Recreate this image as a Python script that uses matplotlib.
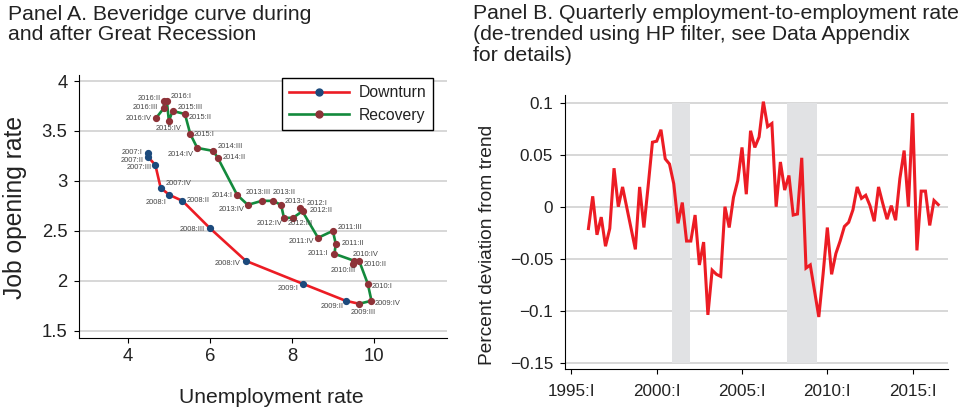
import matplotlib
matplotlib.use('Agg')
import matplotlib.pyplot as plt
from matplotlib.lines import Line2D
from matplotlib.ticker import FuncFormatter
import pandas as pd

plt.rcParams['font.family'] = ['Liberation Sans', 'DejaVu Sans']

# ---------------- Panel A data ----------------
down_labels = ['2007:I', '2007:II', '2007:III', '2007:IV', '2008:I', '2008:II',
               '2008:III', '2008:IV', '2009:I', '2009:II']
unemp_down = [4.50, 4.50, 4.67, 4.80, 5.01, 5.33, 5.99, 6.87, 8.26, 9.30]
jo_down = [3.275, 3.235, 3.16, 2.93, 2.86, 2.80, 2.53, 2.20, 1.97, 1.80]

rec_labels = ['2009:III', '2009:IV', '2010:I', '2010:II', '2010:III', '2010:IV',
              '2011:I', '2011:II', '2011:III', '2011:IV', '2012:I', '2012:II',
              '2012:III', '2012:IV', '2013:I', '2013:II', '2013:III', '2013:IV',
              '2014:I', '2014:II', '2014:III', '2014:IV', '2015:I', '2015:II',
              '2015:III', '2015:IV', '2016:I', '2016:II', '2016:III', '2016:IV']
unemp_rec = [9.63, 9.93, 9.84, 9.63, 9.47, 9.51, 9.03, 9.06, 8.99, 8.63,
             8.20, 8.26, 8.02, 7.80, 7.73, 7.53, 7.26, 6.92, 6.66, 6.19,
             6.08, 5.69, 5.52, 5.39, 5.09, 5.00, 4.95, 4.88, 4.88, 4.69]
jo_rec = [1.77, 1.80, 1.97, 2.20, 2.17, 2.20, 2.27, 2.37, 2.50, 2.43,
          2.73, 2.70, 2.63, 2.63, 2.76, 2.80, 2.80, 2.76, 2.86, 3.23,
          3.30, 3.33, 3.47, 3.67, 3.70, 3.60, 3.80, 3.80, 3.73, 3.63]

# label placement (ha, dx pt, dy pt)
down_lab_style = [('right', -4, 0.5), ('right', -3.4, -2.2), ('right', -2.4, -2.2),
                  ('left', 3.4, 3.1), ('right', -1.7, -5.3), ('left', 3.1, 0.2),
                  ('right', -3.1, -1.2), ('right', -3.4, -1.7), ('right', -3.1, -3.6),
                  ('right', -1.4, -4.3)]
rec_lab_style = [('center', 2.6, -6), ('left', 2.6, -1.7), ('left', 3.1, -2.2),
                 ('left', 3.1, -2.4), ('center', -6.5, -5), ('left', -1, 4.8),
                 ('right', -4.3, 0), ('left', 4.3, 0), ('left', 3.4, 2.4),
                 ('right', -2.6, -2.4), ('left', 4.3, 3.1), ('left', 4.8, 0.2),
                 ('center', 5.3, -4.1), ('center', -10.3, -4.1), ('center', 10, 2.6),
                 ('center', 8, 6), ('center', -2.4, 6), ('right', -2, -3.4),
                 ('right', -3.1, -0.7), ('left', 3.6, 0), ('left', 2.9, 2.9),
                 ('right', -2.4, -4.6), ('left', 2.6, -0.2), ('left', 2.9, -2.4),
                 ('left', 3.4, 2.4), ('center', 0, -5.5), ('left', 3.1, 2.9),
                 ('right', -2.4, 1.7), ('right', -4.3, 0), ('right', -2.9, -0.7)]

# ---------------- Panel B data ----------------
start_quarter = '1996Q1'
e2e = [-0.021, 0.010, -0.027, -0.010, -0.038, -0.021, 0.037, 0.000, 0.019, -0.001,
       -0.021, -0.041, 0.019, -0.020, 0.020, 0.062, 0.063, 0.074, 0.046, 0.041,
       0.022, -0.016, 0.004, -0.033, -0.033, -0.008, -0.056, -0.034, -0.104, -0.061,
       -0.065, -0.067, 0.000, -0.020, 0.009, 0.025, 0.057, 0.012, 0.073, 0.057,
       0.067, 0.101, 0.077, 0.080, 0.000, 0.043, 0.016, 0.030, -0.008, -0.007,
       0.047, -0.059, -0.056, -0.081, -0.106, -0.065, -0.020, -0.065, -0.045, -0.033,
       -0.019, -0.015, -0.003, 0.019, 0.008, 0.011, 0.001, -0.014, 0.019, 0.003,
       -0.012, 0.001, -0.013, 0.027, 0.054, 0.000, 0.090, -0.042, 0.015, 0.015,
       -0.018, 0.006, 0.002]
rec_start = [2000.90, 2007.62]
rec_end = [2001.93, 2009.40]
b_xticks = [1995, 2000, 2005, 2010, 2015]
b_xticklabels = ['1995:I', '2000:I', '2005:I', '2010:I', '2015:I']
b_yticks = [0.1, 0.05, 0, -0.05, -0.1, -0.15]

RED = '#ec1c24'
GREEN = '#138a3c'
NAVY = '#1c4a7c'
MAROON = '#8e3238'
GRID = '#d4d4d4'
TXT = '#222222'

fig = plt.figure(figsize=(9.66, 4.11), dpi=100)

# ================= Panel A =================
axA = fig.add_axes([0.0821, 0.1783, 0.3803, 0.6392])
axA.set_xlim(2.82, 11.76)
axA.set_ylim(1.43, 4.06)
axA.set_yticks([1.5, 2, 2.5, 3, 3.5, 4])
axA.set_xticks([4, 6, 8, 10])
fmt = FuncFormatter(lambda v, p: ('%g' % v).replace('-', '\u2212'))
axA.yaxis.set_major_formatter(fmt)
axA.xaxis.set_major_formatter(fmt)
axA.set_axisbelow(True)
axA.yaxis.grid(True, color=GRID, lw=1.3)
for s in ['top', 'right']:
    axA.spines[s].set_visible(False)
axA.tick_params(labelsize=13.3, length=3.5, width=0.8, pad=4, labelcolor=TXT)
axA.tick_params(axis='y', pad=5)

axA.plot(unemp_down + [unemp_rec[0]], jo_down + [jo_rec[0]], color=RED, lw=1.9,
         zorder=2, solid_capstyle='round')
axA.plot(unemp_rec, jo_rec, color=GREEN, lw=1.9, zorder=2, solid_joinstyle='round')
axA.plot(unemp_down, jo_down, 'o', color=NAVY, ms=4.2, zorder=3)
axA.plot(unemp_rec, jo_rec, 'o', color=MAROON, ms=4.2, zorder=3)

for lab, x, y, (ha, dx, dy) in zip(down_labels + rec_labels,
                                   unemp_down + unemp_rec, jo_down + jo_rec,
                                   down_lab_style + rec_lab_style):
    axA.annotate(lab, (x, y), xytext=(dx, dy), textcoords='offset points',
                 ha=ha, va='center', fontsize=5.4, color='#444444', zorder=4)

handles = [Line2D([], [], color=RED, lw=1.9, marker='o', mfc=NAVY, mec=NAVY, ms=5),
           Line2D([], [], color=GREEN, lw=1.9, marker='o', mfc=MAROON, mec=MAROON, ms=5)]
leg = axA.legend(handles, ['Downturn', 'Recovery'], loc='upper right',
                 bbox_to_anchor=(0.963, 0.9886), borderaxespad=0, fontsize=11.3,
                 handlelength=3.8, fancybox=False, framealpha=1, edgecolor='black',
                 borderpad=0.45, labelspacing=0.5, handletextpad=0.6)
leg.get_frame().set_linewidth(1.0)
for t in leg.get_texts():
    t.set_color(TXT)

fig.text(8.3 / 966, 0.989, 'Panel A. Beveridge curve during\nand after Great Recession',
         ha='left', va='top', fontsize=15.3, linespacing=1.13, color=TXT)
fig.text(15 / 966, 1 - 207 / 411, 'Job opening rate', rotation=90, ha='center',
         va='center', fontsize=17.7, color=TXT)
fig.text(271 / 966, 1 - 397 / 411, 'Unemployment rate', ha='center', va='center',
         fontsize=15.2, color=TXT)

# ================= Panel B =================
axB = fig.add_axes([0.5846, 0.1022, 0.3971, 0.6667])
periods = pd.period_range(start_quarter, periods=len(e2e), freq='Q')
xq = [p.year + (p.quarter - 1) / 4 for p in periods]
axB.set_xlim(1994.61, 2017.09)
axB.set_ylim(-0.156, 0.1074)
axB.set_axisbelow(True)
axB.set_yticks(b_yticks)
axB.yaxis.set_major_formatter(fmt)
axB.set_xticks(b_xticks)
axB.set_xticklabels(b_xticklabels)
axB.yaxis.grid(True, color=GRID, lw=1.3)
for s in ['top', 'right']:
    axB.spines[s].set_visible(False)
axB.tick_params(labelsize=12.3, length=3.5, width=0.8, labelcolor=TXT)
axB.tick_params(axis='y', pad=5)
axB.tick_params(axis='x', pad=7)
for s0, s1 in zip(rec_start, rec_end):
    axB.fill_between([s0, s1], [-0.15, -0.15], [0.1, 0.1], color='#e1e2e4', lw=0,
                     zorder=1)
axB.plot(xq, e2e, color=RED, lw=2.2, zorder=3, solid_joinstyle='miter')

fig.text(473.3 / 966, 0.991,
         'Panel B. Quarterly employment-to-employment rate\n'
         '(de-trended using HP filter, see Data Appendix\nfor details)',
         ha='left', va='top', fontsize=15.3, linespacing=1.13, color=TXT)
fig.text(488 / 966, 1 - 245 / 411, 'Percent deviation from trend', rotation=90,
         ha='center', va='center', fontsize=13.8, color=TXT)

fig.savefig('out.png', dpi=100)
